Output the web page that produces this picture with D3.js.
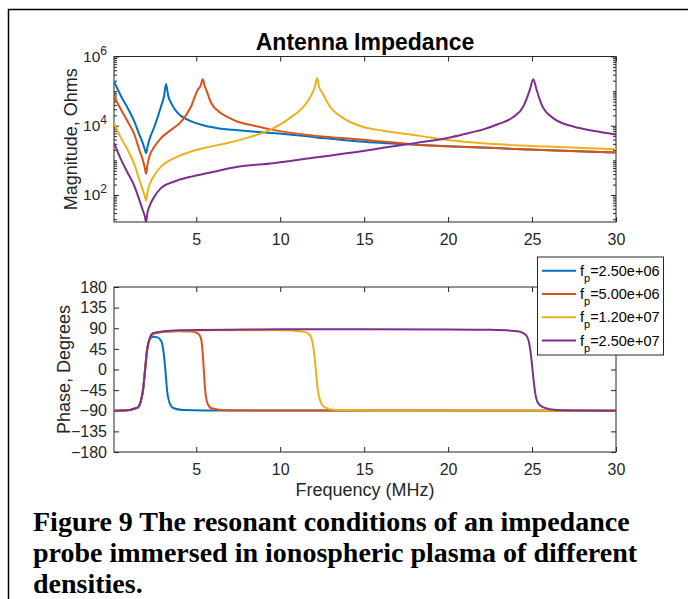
<!DOCTYPE html>
<html>
<head>
<meta charset="utf-8">
<script src="https://cdn.jsdelivr.net/npm/d3@7"></script>
<style>
  body { margin: 0; background: #fff; }
  svg text { font-family: "Liberation Sans", Arial, Helvetica, sans-serif; fill: #262626; }
</style>
</head>
<body>
<svg id="chart" width="688" height="599"></svg>
<script>
// plasma frequencies shown in the legend
var fpLabels = ["2.50e+06", "5.00e+06", "1.20e+07", "2.50e+07"];
var colors = ["#0072BD", "#D95319", "#EDB120", "#7E2F8E"];

var freqTicks = [5, 10, 15, 20, 25, 30];
var magTicks = [1e2, 1e4, 1e6];
var magTickExp = ["2", "4", "6"];
var phaseTicks = [-180, -135, -90, -45, 0, 45, 90, 135, 180];

// magnitude |Z| in Ohms, [MHz, Ohms]
var mag1 = [[0.1, 1.9e5], [0.52, 7.1e4], [0.92, 3.2e4], [1.32, 1.3e4], [1.61, 5.5e3], [1.81, 3.2e3],
    [1.93, 2.1e3], [2.01, 1.6e3], [2.1, 2.5e3], [2.21, 4.0e3], [2.51, 9.5e3], [2.9, 3.6e4], [3.08, 7.1e4],
    [3.2, 1.6e5], [3.32, 7.6e4], [3.5, 4.6e4], [3.9, 2.3e4], [4.49, 1.5e4], [5.29, 1.07e4], [6.28, 8.5e3],
    [7.47, 7.4e3], [8.19, 6.9e3], [9.58, 6.2e3], [12.16, 4.6e3], [14.74, 3.5e3], [18.3, 2.8e3],
    [22.5, 2.3e3], [26, 1.95e3], [30, 1.7e3]];
var mag2 = [[0.1, 7.1e4], [0.52, 2.9e4], [0.92, 1.3e4], [1.32, 5.5e3], [1.61, 2.0e3], [1.81, 1.05e3],
    [1.93, 630], [2.01, 410], [2.1, 790], [2.21, 1.3e3], [2.51, 2.5e3], [2.9, 4.4e3], [3.5, 7.6e3],
    [4.09, 1.3e4], [4.69, 3.6e4], [5.09, 1.1e5], [5.25, 1.4e5], [5.39, 2.2e5], [5.5, 1.4e5], [5.59, 1.1e5],
    [5.88, 4.6e4], [6.48, 2.3e4], [7.0, 1.66e4], [7.47, 1.3e4], [8.19, 1.07e4], [9.58, 7.6e3],
    [12.16, 5.1e3], [14.74, 4.0e3], [18.32, 2.8e3], [22.49, 2.3e3], [26, 1.95e3], [30, 1.7e3]];
var mag3 = [[0.1, 1.2e4], [0.52, 4.4e3], [0.92, 2.0e3], [1.32, 740], [1.61, 275], [1.81, 141], [1.93, 95],
    [2.01, 69], [2.1, 126], [2.21, 195], [2.51, 380], [2.9, 660], [3.7, 1.17e3], [4.69, 1.8e3],
    [5.69, 2.4e3], [7.0, 3.3e3], [8.19, 4.7e3], [9.38, 7.6e3], [10.57, 1.66e4], [11.57, 4.6e4],
    [11.96, 9.8e4], [12.08, 1.4e5], [12.2, 2.4e5], [12.32, 1.3e5], [12.46, 9.8e4], [12.96, 3.6e4],
    [13.75, 1.66e4], [14.2, 1.26e4], [15, 9.1e3], [16.13, 7.2e3], [18.32, 5.1e3], [20.1, 3.8e3],
    [22.49, 3.0e3], [25.87, 2.5e3], [30, 2.1e3]];
var mag4 = [[0.1, 3.2e3], [0.52, 1.05e3], [0.92, 430], [1.32, 178], [1.61, 72], [1.81, 37], [1.93, 25],
    [2.01, 16.6], [2.1, 32], [2.21, 47], [2.51, 91], [2.9, 158], [3.7, 245], [4.69, 340], [5.69, 430],
    [7.47, 650], [9.58, 830], [12.16, 1.23e3], [14.74, 1.8e3], [16.13, 2.3e3], [18.12, 3.2e3],
    [20.1, 4.6e3], [21.0, 5.8e3], [22.0, 7.6e3], [23.0, 1.12e4], [23.88, 1.78e4], [24.48, 3.6e4],
    [24.87, 1.1e5], [25.07, 2.2e5], [25.27, 1.1e5], [25.57, 4.1e4], [26.26, 1.66e4], [27.46, 9.5e3],
    [28.85, 6.9e3], [30, 5.5e3]];

// phase in degrees, [MHz, deg]
var phase1 = [[0.1, -90], [1.04, -88.4], [1.33, -85], [1.53, -82.5], [1.69, -70], [1.83, -44.7],
    [1.95, -1], [2.07, 42.5], [2.23, 66], [2.45, 71.5], [2.7, 70], [2.93, 60.7], [3.06, 35], [3.16, -1],
    [3.26, -44.7], [3.42, -74], [3.62, -84], [4.21, -88.4], [5.5, -89.5], [30, -89.8]];
var phase2 = [[0.1, -90], [1.04, -88.4], [1.33, -85], [1.53, -82.5], [1.69, -70], [1.83, -44.7],
    [1.95, -1], [2.07, 42.5], [2.23, 68], [2.43, 78], [3.0, 82], [4.0, 83.5], [4.7, 83], [5.01, 80.4],
    [5.25, 71.6], [5.37, 42.5], [5.45, -1], [5.53, -44.7], [5.67, -74], [5.9, -84.7], [6.8, -89],
    [9, -89.5], [30, -89.8]];
var phase3 = [[0.1, -90], [1.04, -88.4], [1.33, -85], [1.53, -82.5], [1.69, -70], [1.83, -44.7],
    [1.95, -1], [2.07, 42.5], [2.23, 68], [2.43, 79], [3.0, 82.5], [4.0, 84.5], [6, 85.5], [8, 85.8],
    [10, 85.5], [11.3, 83], [11.66, 79], [11.86, 68], [12.0, 42.5], [12.12, -1], [12.24, -44.7],
    [12.4, -70], [12.66, -82.5], [13.35, -88.4], [16, -89.5], [30, -89.8]];
var phase4 = [[0.1, -90], [1.04, -88.4], [1.33, -85], [1.53, -82.5], [1.69, -70], [1.83, -44.7],
    [1.95, -1], [2.07, 42.5], [2.23, 68], [2.43, 79], [3.0, 83], [4.0, 85.5], [8, 87.3], [15, 88],
    [20, 87.5], [22.5, 86.5], [23.8, 84.5], [24.28, 82.5], [24.64, 75], [24.83, 57], [24.97, 20.7],
    [25.07, -15.7], [25.19, -52], [25.37, -74], [25.67, -82.5], [26.46, -88.4], [28, -89.5], [30, -89.8]];

var magSeries = [mag1, mag2, mag3, mag4];
var phaseSeries = [phase1, phase2, phase3, phase4];

var svg = d3.select("#chart"),
    axisColor = "#262626",
    left = 114,
    right = 616,
    magBox = { top: 56.5, bottom: 222 },
    phaseBox = { top: 287, bottom: 452 };

svg.append("rect").attr("width", 688).attr("height", 599).attr("fill", "#fff");

var x = d3.scaleLinear().domain([0.1, 30]).range([left, right]),
    yMag = d3.scaleLog().domain([16.6, 1e6]).range([magBox.bottom, magBox.top]),
    yPhase = d3.scaleLinear().domain([-180, 180]).range([phaseBox.bottom, phaseBox.top]);

function clip(id, box) {
    svg.append("clipPath").attr("id", id)
        .append("rect")
        .attr("x", left).attr("y", box.top)
        .attr("width", right - left).attr("height", box.bottom - box.top);
}
clip("clipMag", magBox);
clip("clipPhase", phaseBox);

function styleAxis(g) {
    g.select(".domain").remove();
    g.selectAll("line").attr("stroke", axisColor);
    g.selectAll("text").attr("font-size", 16).attr("fill", axisColor).attr("font-family", null);
}

function drawFrame(box, yScale, yTicks, minorTicks, showYLabels) {
    svg.append("g").attr("transform", "translate(0," + box.bottom + ")")
        .call(d3.axisBottom(x).tickValues(freqTicks).tickSize(-5).tickPadding(12))
        .call(styleAxis);
    svg.append("g").attr("transform", "translate(0," + box.top + ")")
        .call(d3.axisTop(x).tickValues(freqTicks).tickSize(-5).tickFormat(""))
        .call(styleAxis);

    var yl = d3.axisLeft(yScale).tickValues(yTicks).tickSize(-5).tickPadding(7);
    if (!showYLabels) yl.tickFormat("");
    else yl.tickFormat(d3.format("d"));
    svg.append("g").attr("transform", "translate(" + left + ",0)").call(yl).call(styleAxis);
    svg.append("g").attr("transform", "translate(" + right + ",0)")
        .call(d3.axisRight(yScale).tickValues(yTicks).tickSize(-5).tickFormat(""))
        .call(styleAxis);

    if (minorTicks) {
        svg.append("g").attr("transform", "translate(" + left + ",0)")
            .call(d3.axisLeft(yScale).tickValues(minorTicks).tickSize(-3).tickFormat(""))
            .call(styleAxis);
        svg.append("g").attr("transform", "translate(" + right + ",0)")
            .call(d3.axisRight(yScale).tickValues(minorTicks).tickSize(-3).tickFormat(""))
            .call(styleAxis);
    }

    svg.append("rect")
        .attr("x", left).attr("y", box.top)
        .attr("width", right - left).attr("height", box.bottom - box.top)
        .attr("fill", "none").attr("stroke", axisColor).attr("stroke-width", 1);
}

// log minor ticks
var minor = [];
for (var e = 1; e <= 5; e++) {
    for (var k = 1; k <= 9; k++) {
        var v = k * Math.pow(10, e);
        if (v >= yMag.domain()[0] && v <= 1e6 && magTicks.indexOf(v) < 0) minor.push(v);
    }
}

drawFrame(magBox, yMag, magTicks, minor, false);
drawFrame(phaseBox, yPhase, phaseTicks, null, true);

// 10^n labels on the log axis
magTicks.forEach(function (t, i) {
    var txt = svg.append("text")
        .attr("x", 107).attr("y", yMag(t) + 5.5)
        .attr("text-anchor", "end")
        .attr("font-size", 15.5);
    txt.append("tspan").text("10");
    txt.append("tspan").attr("dy", -7.5).attr("font-size", 12).text(magTickExp[i]);
});

var magLine = d3.line()
    .x(function (d) { return x(d[0]); })
    .y(function (d) { return yMag(d[1]); })
    .curve(d3.curveMonotoneX);
var phaseLine = d3.line()
    .x(function (d) { return x(d[0]); })
    .y(function (d) { return yPhase(d[1]); })
    .curve(d3.curveMonotoneX);

svg.append("g").attr("clip-path", "url(#clipMag)")
    .selectAll("path").data(magSeries).enter().append("path")
    .attr("d", magLine)
    .attr("fill", "none")
    .attr("stroke", function (d, i) { return colors[i]; })
    .attr("stroke-width", 2);

svg.append("g").attr("clip-path", "url(#clipPhase)")
    .selectAll("path").data(phaseSeries).enter().append("path")
    .attr("d", phaseLine)
    .attr("fill", "none")
    .attr("stroke", function (d, i) { return colors[i]; })
    .attr("stroke-width", 2);

// titles and labels
svg.append("text")
    .attr("x", 365).attr("y", 50)
    .attr("text-anchor", "middle")
    .attr("font-size", 23).attr("font-weight", "bold").style("fill", "#000")
    .text("Antenna Impedance");

svg.append("text")
    .attr("transform", "translate(77," + (magBox.top + magBox.bottom) / 2 + ") rotate(-90)")
    .attr("text-anchor", "middle").attr("font-size", 18)
    .text("Magnitude, Ohms");

svg.append("text")
    .attr("transform", "translate(70," + (phaseBox.top + phaseBox.bottom) / 2 + ") rotate(-90)")
    .attr("text-anchor", "middle").attr("font-size", 18)
    .text("Phase, Degrees");

svg.append("text")
    .attr("x", 365).attr("y", 496)
    .attr("text-anchor", "middle").attr("font-size", 18)
    .text("Frequency (MHz)");

// legend
var legend = svg.append("g");
legend.append("rect")
    .attr("x", 537.5).attr("y", 257)
    .attr("width", 126).attr("height", 98)
    .attr("fill", "#fff").attr("stroke", axisColor).attr("stroke-width", 1);

fpLabels.forEach(function (lab, i) {
    var ly = 270.7 + i * 23.3;
    legend.append("line")
        .attr("x1", 542).attr("x2", 576)
        .attr("y1", ly).attr("y2", ly)
        .attr("stroke", colors[i]).attr("stroke-width", 2);
    var t = legend.append("text")
        .attr("x", 580).attr("y", ly + 5)
        .attr("font-size", 14.5).style("fill", "#000");
    t.append("tspan").text("f");
    t.append("tspan").attr("dy", 6).attr("font-size", 11).text("p");
    t.append("tspan").attr("dy", -6).text("=" + lab);
});

// page frame and caption
svg.append("path")
    .attr("d", "M8.5,599 L8.5,9.5 L688,9.5")
    .attr("fill", "none").attr("stroke", "#000").attr("stroke-width", 1.5);

var caption = ["Figure 9 The resonant conditions of an impedance",
    "probe immersed in ionospheric plasma of different",
    "densities."];
svg.selectAll(".cap").data(caption).enter().append("text")
    .attr("class", "cap")
    .attr("x", 33)
    .attr("y", function (d, i) { return 531 + i * 31; })
    .style("font-family", "'Liberation Serif', 'Times New Roman', serif")
    .style("fill", "#000")
    .attr("font-size", 28).attr("font-weight", "bold")
    .text(function (d) { return d; });
</script>
</body>
</html>
